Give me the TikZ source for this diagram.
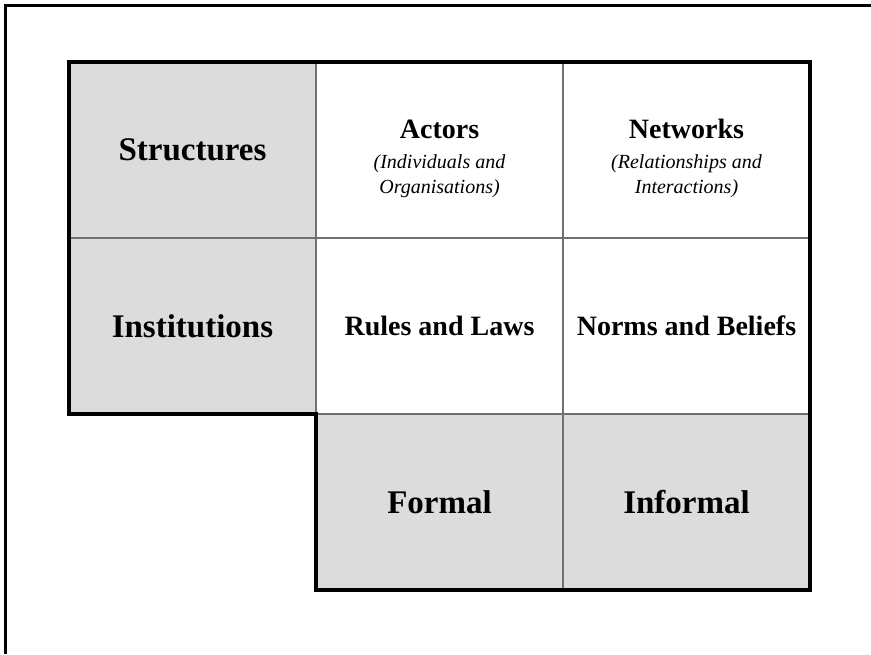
\documentclass[tikz,border=0pt]{standalone}
\usepackage{fontspec}
\setmainfont{Liberation Serif}
\usepackage{tikz}
\usetikzlibrary{positioning}

\definecolor{cellgray}{HTML}{DCDCDC}
\definecolor{gridgray}{HTML}{707070}

\tikzset{
	cell/.style={draw=gridgray, line width=1.4pt, inner sep=0pt, outer sep=0pt,
		minimum width=247pt, minimum height=176pt, align=center,
		font=\fontsize{28}{32}\selectfont\bfseries},
	shadedcell/.style={cell, fill=cellgray, font=\fontsize{33}{38}\selectfont\bfseries},
}
\newcommand{\subtext}[1]{{\fontsize{20}{24}\selectfont\mdseries\itshape #1}}

\begin{document}
\begin{tikzpicture}[x=1pt,y=-1pt]
			\useasboundingbox (0,0) rectangle (871,654);
			% frame of the page
			\draw[line width=3pt] (5,654)--(5,5)--(871,5);
			% top row
			\node[shadedcell] (struct) at (192.5,150) {Structures};
			\node[cell, right=0pt of struct] (actors) {\rule{0pt}{36pt}Actors\\[-2pt]\subtext{(Individuals and}\\[-7pt]\subtext{Organisations)}};
			\node[cell, right=0pt of actors] (networks) {\rule{0pt}{36pt}Networks\\[-2pt]\subtext{(Relationships and}\\[-7pt]\subtext{Interactions)}};
			% middle row
			\node[shadedcell, below=0pt of struct] (inst) {Institutions};
			\node[cell, below=0pt of actors] (rules) {Rules and Laws};
			\node[cell, below=0pt of networks] (norms) {Norms and Beliefs};
			% bottom row
			\node[shadedcell, below=0pt of rules] (formal) {Formal};
			\node[shadedcell, below=0pt of norms] (informal) {Informal};
			% thick outline
			\draw[line width=3.4pt, line join=miter] (struct.north west)--(networks.north east)--(informal.south east)--(formal.south west)--(formal.north west)--(inst.south west)--cycle;
		\end{tikzpicture}
\end{document}
